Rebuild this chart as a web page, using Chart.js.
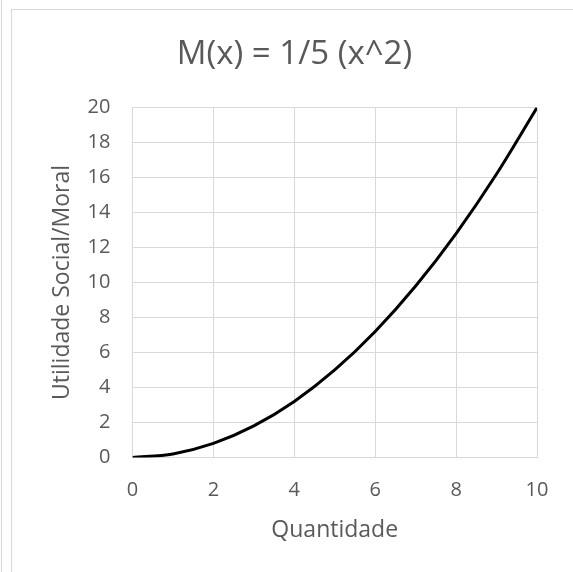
<!DOCTYPE html>
<html>
<head>
<meta charset="utf-8">
<script src="https://cdn.jsdelivr.net/npm/chart.js@4"></script>
<style>
  body { margin: 0; background: #fff; }
  #wrap { position: relative; width: 573px; height: 572px; }
  #cellLine { position: absolute; left: 1px; top: 0; width: 0; height: 572px; border-left: 1px solid #d9d9d9; }
  #frame { position: absolute; left: 11px; top: 9px; right: 0; bottom: 0; border-left: 1px solid #d9d9d9; border-top: 1px solid #d9d9d9; }
  canvas { position: absolute; left: 0; top: 0; }
</style>
</head>
<body>
<div id="wrap">
  <div id="cellLine"></div>
  <div id="frame"></div>
  <canvas id="lineChart" width="573" height="572"></canvas>
</div>
<script>
// quantity and resulting utility, M(x)
var quantidade = [0, 1, 2, 3, 4, 5, 6, 7, 8, 9, 10];
var utilidade = [0, 0.2, 0.8, 1.8, 3.2, 5, 7.2, 9.8, 12.8, 16.2, 20];
var xTicks = [0, 2, 4, 6, 8, 10];
var yTicks = [0, 2, 4, 6, 8, 10, 12, 14, 16, 18, 20];

var fontFam = "'Open Sans', sans-serif";
var grey = '#595959';

var points = quantidade.map(function(q, i) { return {x: q, y: utilidade[i]}; });

var ctx = document.getElementById('lineChart').getContext('2d');
var myChart = new Chart(ctx, {
  type: 'scatter',
  data: {
    datasets: [{
      data: points,
      showLine: true,
      borderColor: '#000',
      borderWidth: 3,
      pointRadius: 0,
      fill: false,
      cubicInterpolationMode: 'monotone'
    }]
  },
  options: {
    responsive: false,
    animation: false,
    // left padding keeps the title centred over the whole frame
    layout: { padding: { left: 52, right: 36, top: 0, bottom: 0 } },
    plugins: {
      legend: { display: false },
      tooltip: { enabled: false },
      title: {
        display: true,
        text: 'M(x) = 1/5 (x^2)',
        color: grey,
        font: { family: fontFam, size: 33, weight: 'normal' },
        padding: { top: 35, bottom: 33 }
      }
    },
    scales: {
      x: {
        type: 'linear',
        min: 0, max: 10,
        afterBuildTicks: function(axis) { axis.ticks = xTicks.map(function(v) { return {value: v}; }); },
        grid: { color: '#d9d9d9', lineWidth: 1, drawTicks: false },
        border: { color: '#d9d9d9', width: 1 },
        ticks: { color: grey, font: { family: fontFam, size: 20 }, padding: 21, maxRotation: 0 },
        title: { display: true, text: 'Quantidade', color: grey, font: { family: fontFam, size: 23 }, padding: { top: -7, bottom: 28 } }
      },
      y: {
        min: 0, max: 20,
        afterBuildTicks: function(axis) { axis.ticks = yTicks.map(function(v) { return {value: v}; }); },
        grid: { color: '#d9d9d9', lineWidth: 1, drawTicks: false },
        border: { color: '#d9d9d9', width: 1 },
        ticks: { color: grey, font: { family: fontFam, size: 20 }, padding: 22 },
        title: { display: true, text: 'Utilidade Social/Moral', color: grey, font: { family: fontFam, size: 23 }, padding: { top: -3, bottom: -11 } }
      }
    }
  }
});
</script>
</body>
</html>
